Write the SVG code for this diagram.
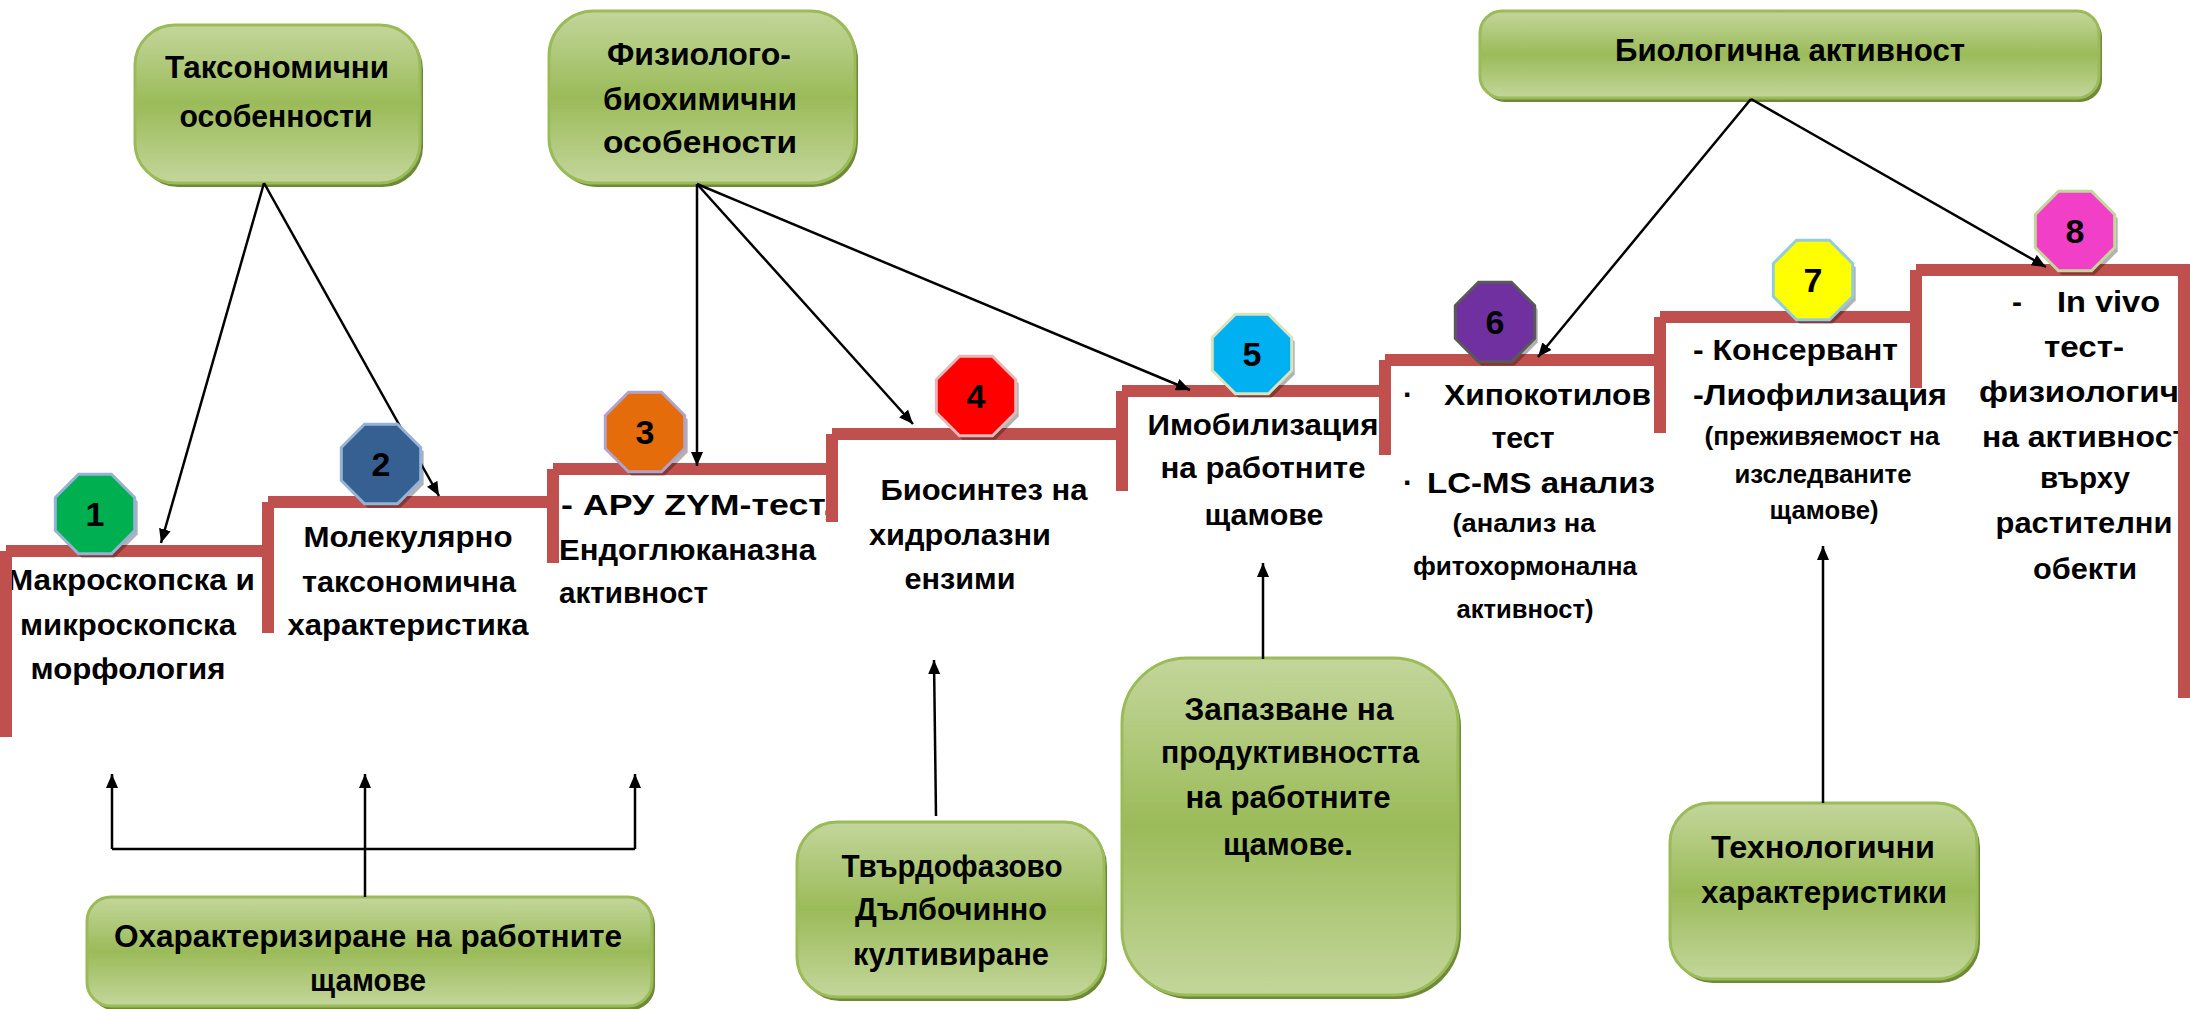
<svg xmlns="http://www.w3.org/2000/svg" width="2190" height="1009" viewBox="0 0 2190 1009">
<style>
.t{font-family:"Liberation Sans",Arial,sans-serif;font-weight:bold;font-size:30px;fill:#000}
.s{font-family:"Liberation Sans",Arial,sans-serif;font-weight:bold;font-size:26px;fill:#000}
.b{font-family:"Liberation Sans",Arial,sans-serif;font-weight:bold;font-size:32px;fill:#000}
.n{font-family:"Liberation Sans",Arial,sans-serif;font-weight:bold;font-size:34px;fill:#000;text-anchor:middle}
.m{text-anchor:middle}
.box{fill:url(#gg);stroke:#9BBB59;stroke-width:3}
.sh{fill:#6E8A38}
.stair{fill:none;stroke:#C0504D;stroke-width:12;stroke-linejoin:miter;stroke-linecap:butt}
.c{fill:none;stroke:#000;stroke-width:2.5}
.oct{stroke-width:3}
.osh{fill:#000;opacity:.3}
</style>
<defs>
<linearGradient id="gg" x1="0" y1="0" x2="0" y2="1">
<stop offset="0" stop-color="#C3D69B"/>
<stop offset="0.5" stop-color="#9BBB59"/>
<stop offset="1" stop-color="#C3D69B"/>
</linearGradient>
<marker id="ah" viewBox="0 0 14 12" refX="14" refY="6" markerWidth="14" markerHeight="12" markerUnits="userSpaceOnUse" orient="auto">
<path d="M0,0 L14,6 L0,12 z" fill="#000"/>
</marker>
<polygon id="oc" points="16.5,-39.7 39.7,-16.5 39.7,16.5 16.5,39.7 -16.5,39.7 -39.7,16.5 -39.7,-16.5 -16.5,-39.7"/>
</defs>
<rect width="2190" height="1009" fill="#fff"/>

<!-- green boxes -->
<g id="box-taxonomy">
<rect class="sh" x="138" y="29" width="285" height="158" rx="40"/>
<rect class="box" x="135" y="25" width="285" height="158" rx="40"/>
<text class="b m" x="277" y="78" textLength="224" lengthAdjust="spacingAndGlyphs">Таксономични</text>
<text class="b m" x="276" y="127" textLength="193" lengthAdjust="spacingAndGlyphs">особенности</text>
</g>
<g id="box-physio">
<rect class="sh" x="552" y="15" width="306" height="172" rx="45"/>
<rect class="box" x="549" y="11" width="306" height="172" rx="45"/>
<text class="b m" x="699" y="65" textLength="184" lengthAdjust="spacingAndGlyphs">Физиолого-</text>
<text class="b m" x="700" y="110" textLength="194" lengthAdjust="spacingAndGlyphs">биохимични</text>
<text class="b m" x="700" y="153" textLength="194" lengthAdjust="spacingAndGlyphs">особености</text>
</g>
<g id="box-bio">
<rect class="sh" x="1483" y="15" width="619" height="87" rx="22"/>
<rect class="box" x="1480" y="11" width="619" height="87" rx="22"/>
<text class="b m" x="1790" y="61" font-size="34" textLength="350" lengthAdjust="spacingAndGlyphs">Биологична активност</text>
</g>
<g id="box-characterize">
<rect class="sh" x="90" y="901" width="565" height="109" rx="24"/>
<rect class="box" x="87" y="897" width="565" height="109" rx="24"/>
<text class="b m" x="368" y="947" textLength="508" lengthAdjust="spacingAndGlyphs">Охарактеризиране на работните</text>
<text class="b m" x="368" y="991" textLength="116" lengthAdjust="spacingAndGlyphs">щамове</text>
</g>
<g id="box-solid">
<rect class="sh" x="800" y="826" width="307" height="175" rx="40"/>
<rect class="box" x="797" y="822" width="307" height="175" rx="40"/>
<text class="b m" x="952" y="877" textLength="221" lengthAdjust="spacingAndGlyphs">Твърдофазово</text>
<text class="b m" x="951" y="920" textLength="192" lengthAdjust="spacingAndGlyphs">Дълбочинно</text>
<text class="b m" x="951" y="965" textLength="196" lengthAdjust="spacingAndGlyphs">култивиране</text>
</g>
<g id="box-keep">
<rect class="sh" x="1125" y="662" width="336" height="337" rx="65"/>
<rect class="box" x="1122" y="658" width="336" height="337" rx="65"/>
<text class="b m" x="1289" y="720" textLength="209" lengthAdjust="spacingAndGlyphs">Запазване на</text>
<text class="b m" x="1290" y="763" textLength="258" lengthAdjust="spacingAndGlyphs">продуктивността</text>
<text class="b m" x="1288" y="808" textLength="205" lengthAdjust="spacingAndGlyphs">на работните</text>
<text class="b m" x="1288" y="855" textLength="130" lengthAdjust="spacingAndGlyphs">щамове.</text>
</g>
<g id="box-tech">
<rect class="sh" x="1673" y="807" width="307" height="176" rx="40"/>
<rect class="box" x="1670" y="803" width="307" height="176" rx="40"/>
<text class="b m" x="1823" y="858" textLength="224" lengthAdjust="spacingAndGlyphs">Технологични</text>
<text class="b m" x="1824" y="903" textLength="246" lengthAdjust="spacingAndGlyphs">характеристики</text>
</g>

<!-- step texts -->
<g id="step1-text">
<text class="t m" x="131" y="590" textLength="248" lengthAdjust="spacingAndGlyphs">Макроскопска и</text>
<text class="t m" x="128" y="635" textLength="216" lengthAdjust="spacingAndGlyphs">микроскопска</text>
<text class="t m" x="128" y="679" textLength="195" lengthAdjust="spacingAndGlyphs">морфология</text>
</g>
<g id="step2-text">
<text class="t m" x="408" y="547" textLength="209" lengthAdjust="spacingAndGlyphs">Молекулярно</text>
<text class="t m" x="409" y="592" textLength="214" lengthAdjust="spacingAndGlyphs">таксономична</text>
<text class="t m" x="408" y="635" textLength="241" lengthAdjust="spacingAndGlyphs">характеристика</text>
</g>
<g id="step3-text">
<text class="t" x="561" y="515" textLength="272" lengthAdjust="spacingAndGlyphs">- АРУ ZYM-тест,</text>
<text class="t" x="559" y="560" textLength="257" lengthAdjust="spacingAndGlyphs">Ендоглюканазна</text>
<text class="t" x="559" y="603" textLength="149" lengthAdjust="spacingAndGlyphs">активност</text>
</g>
<g id="step4-text">
<text class="t m" x="984" y="500" textLength="207" lengthAdjust="spacingAndGlyphs">Биосинтез на</text>
<text class="t m" x="960" y="545" textLength="182" lengthAdjust="spacingAndGlyphs">хидролазни</text>
<text class="t m" x="960" y="589" textLength="111" lengthAdjust="spacingAndGlyphs">ензими</text>
</g>
<g id="step5-text">
<text class="t m" x="1263" y="435" textLength="231" lengthAdjust="spacingAndGlyphs">Имобилизация</text>
<text class="t m" x="1263" y="478" textLength="205" lengthAdjust="spacingAndGlyphs">на работните</text>
<text class="t m" x="1264" y="525" textLength="119" lengthAdjust="spacingAndGlyphs">щамове</text>
</g>
<g id="step6-text">
<text class="t" x="1403" y="405">·</text>
<text class="t" x="1444" y="405" textLength="207" lengthAdjust="spacingAndGlyphs">Хипокотилов</text>
<text class="t m" x="1523" y="448" textLength="63" lengthAdjust="spacingAndGlyphs">тест</text>
<text class="t" x="1403" y="493">·</text>
<text class="t" x="1427" y="493" textLength="228" lengthAdjust="spacingAndGlyphs">LC-MS анализ</text>
<text class="s m" x="1524" y="532" textLength="143" lengthAdjust="spacingAndGlyphs">(анализ на</text>
<text class="s m" x="1525" y="575" textLength="224" lengthAdjust="spacingAndGlyphs">фитохормонална</text>
<text class="s m" x="1525" y="618" textLength="137" lengthAdjust="spacingAndGlyphs">активност)</text>
</g>
<g id="step7-text">
<text class="t" x="1693" y="360" textLength="205" lengthAdjust="spacingAndGlyphs">-  Консервант</text>
<text class="t" x="1693" y="405" textLength="254" lengthAdjust="spacingAndGlyphs">-Лиофилизация</text>
<text class="s m" x="1822" y="445" textLength="235" lengthAdjust="spacingAndGlyphs">(преживяемост на</text>
<text class="s m" x="1823" y="483" textLength="177" lengthAdjust="spacingAndGlyphs">изследваните</text>
<text class="s m" x="1824" y="519" textLength="109" lengthAdjust="spacingAndGlyphs">щамове)</text>
</g>
<g id="step8-text">
<text class="t" x="2012" y="312">-</text>
<text class="t" x="2057" y="312" textLength="103" lengthAdjust="spacingAndGlyphs">In vivo</text>
<text class="t m" x="2084" y="357" textLength="80" lengthAdjust="spacingAndGlyphs">тест-</text>
<text class="t" x="1979" y="402" textLength="211" lengthAdjust="spacingAndGlyphs">физиологич-</text>
<text class="t" x="1982" y="447" textLength="206" lengthAdjust="spacingAndGlyphs">на активност</text>
<text class="t m" x="2085" y="488" textLength="90" lengthAdjust="spacingAndGlyphs">върху</text>
<text class="t m" x="2084" y="533" textLength="177" lengthAdjust="spacingAndGlyphs">растителни</text>
<text class="t m" x="2085" y="579" textLength="104" lengthAdjust="spacingAndGlyphs">обекти</text>
</g>

<!-- staircase -->
<g id="stairs">
<path class="stair" d="M6,737 V551 M6,551 H268"/>
<path class="stair" d="M268,633 V502 M268,502 H553"/>
<path class="stair" d="M553,563 V469 M553,469 H832"/>
<path class="stair" d="M832,522 V434 M832,434 H1122"/>
<path class="stair" d="M1122,491 V391 M1122,391 H1385"/>
<path class="stair" d="M1385,455 V360 M1385,360 H1660"/>
<path class="stair" d="M1660,433 V317 M1660,317 H1916"/>
<path class="stair" d="M1916,388 V270 M1916,270 H2184 V698"/>
</g>

<!-- connectors -->
<g id="connectors">
<path class="c" d="M264,183 L161,543" marker-end="url(#ah)"/>
<path class="c" d="M264,183 L439,496" marker-end="url(#ah)"/>
<path class="c" d="M697,184 L697,466" marker-end="url(#ah)"/>
<path class="c" d="M697,184 L913,424" marker-end="url(#ah)"/>
<path class="c" d="M697,184 L1190,390" marker-end="url(#ah)"/>
<path class="c" d="M1751,99 L1538,357" marker-end="url(#ah)"/>
<path class="c" d="M1751,99 L2046,267" marker-end="url(#ah)"/>
<path class="c" d="M365,897 V774" marker-end="url(#ah)"/>
<path class="c" d="M112,849 H635"/>
<path class="c" d="M112,849 V774" marker-end="url(#ah)"/>
<path class="c" d="M635,849 V774" marker-end="url(#ah)"/>
<path class="c" d="M936,816 L934,660" marker-end="url(#ah)"/>
<path class="c" d="M1263,659 V563" marker-end="url(#ah)"/>
<path class="c" d="M1823,803 V546" marker-end="url(#ah)"/>
</g>

<!-- badges -->
<g id="badge1" transform="translate(95,514)">
<use href="#oc" class="osh" x="3" y="4"/><use href="#oc" class="oct" fill="#00B050" stroke="#95B3D7"/>
<text class="n" y="12">1</text></g>
<g id="badge2" transform="translate(381,464)">
<use href="#oc" class="osh" x="3" y="4"/><use href="#oc" class="oct" fill="#376092" stroke="#95B3D7"/>
<text class="n" y="12">2</text></g>
<g id="badge3" transform="translate(645,432)">
<use href="#oc" class="osh" x="3" y="4"/><use href="#oc" class="oct" fill="#E46C0A" stroke="#B3A2C7"/>
<text class="n" y="12">3</text></g>
<g id="badge4" transform="translate(976,396)">
<use href="#oc" class="osh" x="3" y="4"/><use href="#oc" class="oct" fill="#FF0000" stroke="#E6B9B8"/>
<text class="n" y="12">4</text></g>
<g id="badge5" transform="translate(1252,354)">
<use href="#oc" class="osh" x="3" y="4"/><use href="#oc" class="oct" fill="#00B0F0" stroke="#D7E4BD"/>
<text class="n" y="12">5</text></g>
<g id="badge6" transform="translate(1495,322)">
<use href="#oc" class="osh" x="3" y="4"/><use href="#oc" class="oct" fill="#7030A0" stroke="#595959"/>
<text class="n" y="12">6</text></g>
<g id="badge7" transform="translate(1813,280)">
<use href="#oc" class="osh" x="3" y="4"/><use href="#oc" class="oct" fill="#FFFF00" stroke="#93CDDD"/>
<text class="n" y="12">7</text></g>
<g id="badge8" transform="translate(2075,231)">
<use href="#oc" class="osh" x="3" y="4"/><use href="#oc" class="oct" fill="#F23FC8" stroke="#C3D69B"/>
<text class="n" y="12">8</text></g>
</svg>
